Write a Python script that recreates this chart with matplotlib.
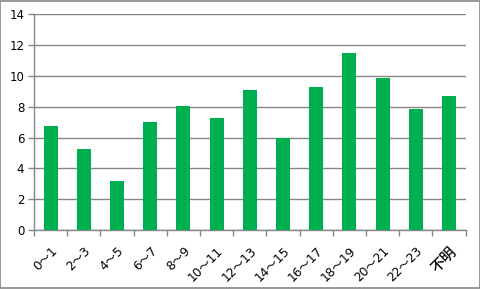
import matplotlib
matplotlib.use("Agg")
import matplotlib.pyplot as plt
from matplotlib.patches import Rectangle

plt.rcParams['font.family'] = ['DejaVu Sans', 'Noto Sans CJK JP']

categories = ["0～1", "2～3", "4～5", "6～7", "8～9", "10～11", "12～13",
              "14～15", "16～17", "18～19", "20～21", "22～23", "不明"]
values = [6.75, 5.25, 3.18, 7.0, 8.05, 7.27, 9.1, 6.0, 9.3, 11.5, 9.88, 7.87, 8.72]
yticks = [0, 2, 4, 6, 8, 10, 12, 14]

fig = plt.figure(figsize=(4.81, 2.89), dpi=100)
ax = fig.add_axes([0.0707, 0.204, 0.8973, 0.746])

x = list(range(len(categories)))
ax.bar(x, values, width=0.42, color="#00B050", zorder=3)
ax.set_xlim(-0.5, len(categories) - 0.5)
ax.set_ylim(0, 14)
ax.set_yticks(yticks)
ax.set_yticklabels([str(t) for t in yticks], fontsize=8.5)
ax.grid(axis='y', color="#868686", linewidth=1.0, zorder=0)

ax.set_xticks(x)
labels = ax.set_xticklabels(categories, rotation=45, ha='right', va='top',
                            rotation_mode='anchor', fontsize=8.8)
labels[-1].set_fontsize(10.5)
labels[-1].set_fontweight('medium')
ax.tick_params(axis='x', length=0, pad=10)
ax.set_xticks([i - 0.5 for i in range(len(categories) + 1)], minor=True)
ax.tick_params(axis='x', which='minor', length=4, color="#868686", width=1)
ax.tick_params(axis='y', length=4, color="#868686", width=1, pad=3)

for s in ['top', 'right']:
    ax.spines[s].set_visible(False)
for s in ['left', 'bottom']:
    ax.spines[s].set_color("#868686")
    ax.spines[s].set_linewidth(1)

fig.patches.append(Rectangle((0.001, 0.002), 0.997, 0.995, transform=fig.transFigure,
                             fill=False, edgecolor="#868686", linewidth=1.2))

fig.savefig("out.png", dpi=100)
